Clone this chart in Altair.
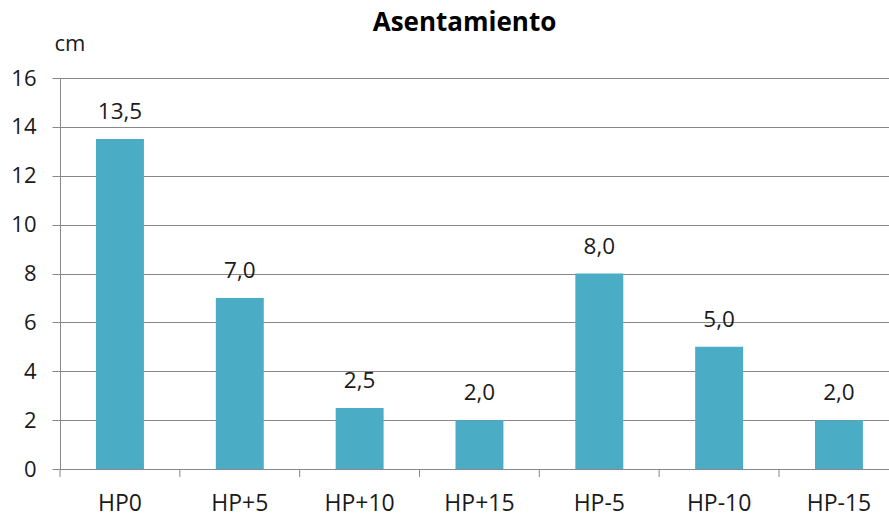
import altair as alt
import pandas as pd

# Settlement per mix (cm)
categories = ["HP0", "HP+5", "HP+10", "HP+15", "HP-5", "HP-10", "HP-15"]
settlement = [13.5, 7.0, 2.5, 2.0, 8.0, 5.0, 2.0]
y_ticks = [0, 2, 4, 6, 8, 10, 12, 14, 16]

df = pd.DataFrame({"mezcla": categories, "asentamiento": settlement})

FONT = "Open Sans"
BAR = "#4BACC6"
GRID = "#888888"
TEXT = "#1a1a1a"

x_scale = alt.Scale(paddingInner=0.6, paddingOuter=0.259, align=0.58)
y_scale = alt.Scale(domain=[0, 16])

base = alt.Chart(df)

bars = base.mark_bar(color=BAR).encode(
    x=alt.X(
        "mezcla:N",
        sort=None,
        scale=x_scale,
        axis=alt.Axis(
            title=None,
            labelAngle=0,
            ticks=False,
            labelPadding=41,
            labelBaseline="alphabetic",
            labelFont=FONT,
            labelFontSize=23,
            labelColor=TEXT,
            domainColor=GRID,
            domainWidth=1,
        ),
    ),
    y=alt.Y(
        "asentamiento:Q",
        scale=y_scale,
        axis=alt.Axis(
            values=y_ticks,
            title="cm",
            titleAngle=0,
            titleAlign="left",
            titleBaseline="alphabetic",
            titleX=-6,
            titleY=-28,
            titleFont=FONT,
            titleFontSize=22,
            titleFontWeight="normal",
            titleColor=TEXT,
            labelFont=FONT,
            labelFontSize=22,
            labelColor=TEXT,
            labelPadding=16,
            tickSize=8,
            tickColor=GRID,
            domainColor=GRID,
            gridColor=GRID,
            grid=True,
        ),
    ),
)

labels = base.transform_calculate(
    etiqueta="replace(format(datum.asentamiento, '.1f'), '.', ',')"
).mark_text(
    font=FONT, fontSize=22.5, color=TEXT, baseline="alphabetic", dy=-20
).encode(
    x=alt.X("mezcla:N", sort=None),
    y=alt.Y("asentamiento:Q"),
    text="etiqueta:N",
)

# category separator ticks below the x axis (half the gap left of each bar)
ticks = base.mark_rule(color=GRID, strokeWidth=1, xOffset=-36).encode(
    x=alt.X("mezcla:N", sort=None, bandPosition=0),
    y=alt.value(391),
    y2=alt.value(399),
)

chart = (
    alt.layer(bars, labels, ticks)
    .properties(
        width=829,
        height=391,
        autosize=alt.AutoSizeParams(type="none"),
        padding={"left": 60, "top": 78, "right": 0, "bottom": 48},
        title=alt.TitleParams(
            "Asentamiento",
            font=FONT,
            fontSize=26,
            fontWeight="bold",
            color="#000000",
            anchor="middle",
            dx=-10,
            dy=8,
        ),
    )
    .configure_view(stroke=None)
    .configure(background="white")
)

chart.save("out.html", embed_options={"renderer": "svg", "actions": False})
